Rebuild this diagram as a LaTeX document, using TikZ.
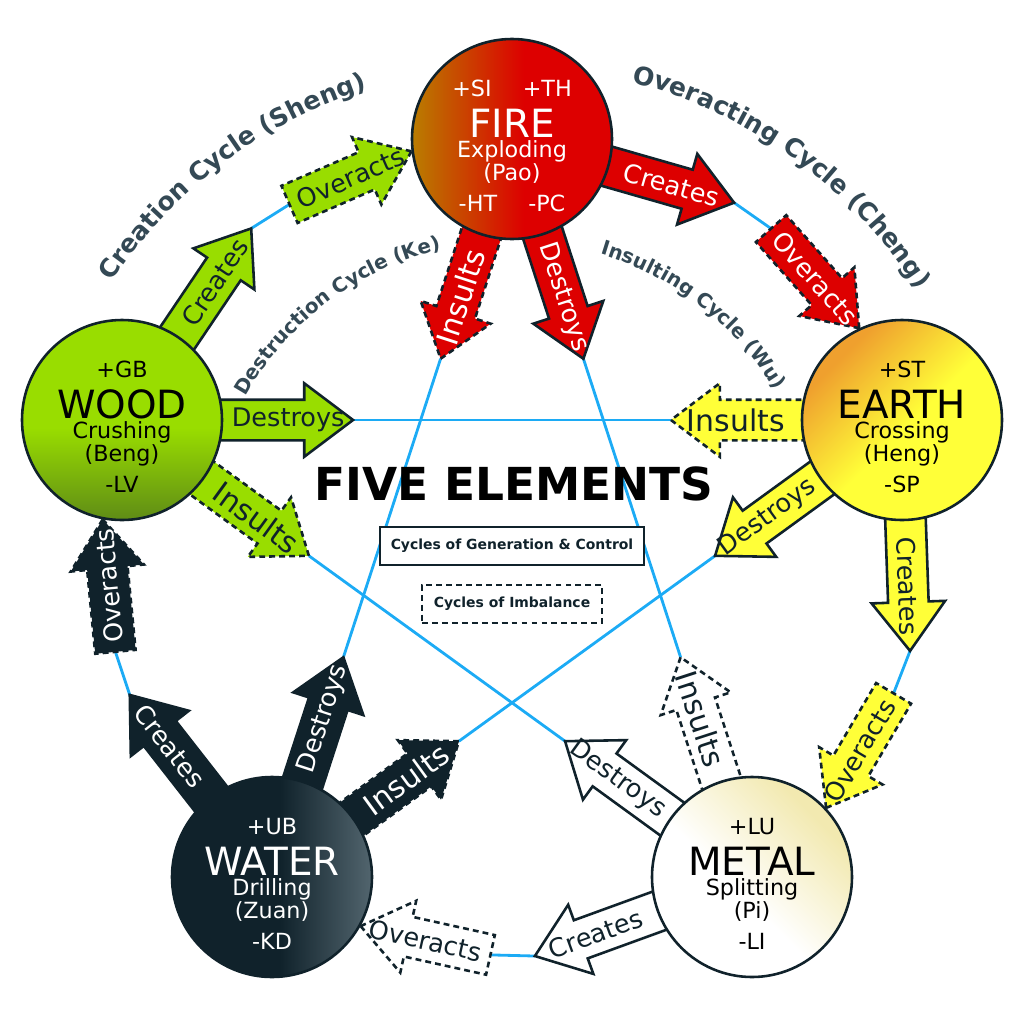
\documentclass[tikz,border=0pt]{standalone}
\usepackage{fontspec}
\setmainfont{DejaVu Sans}
\usetikzlibrary{shapes.arrows, calc, decorations.text}

\definecolor{darkLine}{HTML}{10222B}
\definecolor{lineBlue}{HTML}{1CABF5}
\definecolor{labelGrey}{HTML}{344955}
\definecolor{woodGreen}{HTML}{99DD00}
\definecolor{woodDark}{RGB}{95,140,22}
\definecolor{fireRed}{HTML}{DD0000}
\definecolor{fireOlive}{RGB}{185,125,0}
\definecolor{earthYellow}{HTML}{FFFF38}
\definecolor{earthOrange}{HTML}{EFA02E}
\definecolor{metalCream}{HTML}{F2E9B0}
\definecolor{waterGrey}{HTML}{52656E}

\pgfdeclarehorizontalshading{fireShade}{100bp}{color(0bp)=(fireOlive); color(25bp)=(fireOlive); color(53bp)=(fireRed); color(100bp)=(fireRed)}
\pgfdeclareverticalshading{woodShade}{100bp}{color(0bp)=(woodDark); color(25bp)=(woodDark); color(48bp)=(woodGreen); color(100bp)=(woodGreen)}
\pgfdeclarehorizontalshading{earthShade}{100bp}{color(0bp)=(earthOrange); color(28bp)=(earthOrange); color(52bp)=(earthYellow); color(100bp)=(earthYellow)}
\pgfdeclarehorizontalshading{metalShade}{100bp}{color(0bp)=(metalCream); color(28bp)=(metalCream); color(55bp)=(white); color(100bp)=(white)}
\pgfdeclarehorizontalshading{waterShade}{100bp}{color(0bp)=(darkLine); color(52bp)=(darkLine); color(75bp)=(waterGrey); color(100bp)=(waterGrey)}

\pgfdeclarelayer{lines}
\pgfdeclarelayer{arrows}
\pgfsetlayers{lines,arrows,main}

% texts inside one element circle
\newcommand{\elemlabels}[7]{%
  \node[elemsmall, text=#2] (#1Top) at ($(#1)+(0,-43)$) {#3};
  \node[elembig, text=#2] (#1Name) at ($(#1)+(0,-2)$) {#4};
  \node[elemsmall, text=#2] (#1Sub) at ($(#1)+(0,18)$) {#5};
  \node[elemsmall, text=#2] (#1Pin) at ($(#1)+(0,41)$) {#6};
  \node[elemsmall, text=#2] (#1Bottom) at ($(#1)+(0,72)$) {#7};
}
\newcommand{\cyclefont}{\fontsize{21.5}{21.5}\selectfont\bfseries\color{labelGrey}}
\newcommand{\innerfont}{\fontsize{17}{17}\selectfont\bfseries\color{labelGrey}}

\begin{document}
\begin{tikzpicture}[
    x=0.03cm, y=-0.03cm,
    element/.style={circle, draw=darkLine, line width=2.2pt, minimum size=6cm, inner sep=0pt},
    elemsmall/.style={anchor=base, inner sep=0pt, font=\fontsize{19}{19}\selectfont},
    elembig/.style={anchor=base, inner sep=0pt, font=\fontsize{33.2}{33.2}\selectfont},
    solidArrow/.style={
        single arrow, draw=darkLine, line width=2.2pt, minimum height=4.5cm,
        inner xsep=0pt, inner ysep=0.57cm, single arrow head extend=0.495cm,
        single arrow tip angle=74, outer sep=0pt
    },
    dashedArrow/.style={solidArrow, dash pattern=on 5pt off 3.5pt},
    freeArrow/.style={dashedArrow, minimum height=3.99cm},
    arrowText/.style={inner sep=0pt, font=\fontsize{21.8}{21.8}\selectfont},
    insultText/.style={arrowText, font=\fontsize{25.5}{25.5}\selectfont},
    cycleLine/.style={draw=lineBlue, line width=2.4pt},
    legendBox/.style={
        draw=darkLine, line width=2.2pt, fill=white, text=darkLine,
        font=\bfseries\fontsize{11.9}{11.9}\selectfont, minimum height=1.15cm
    }
]
    \useasboundingbox (0,0) rectangle (1024,1024);

    % the five elements
    \node[element, shade, shading=fireShade] (fire) at (512,139) {};
    \node[element, shade, shading=woodShade] (wood) at (122,420) {};
    \node[element, shade, shading=earthShade, shading angle=-45] (earth) at (902,420) {};
    \node[element, shade, shading=metalShade, shading angle=-135] (metal) at (752,877) {};
    \node[element, shade, shading=waterShade] (water) at (272,877) {};

    \elemlabels{fire}{white}{+SI\hspace{1.4em}+TH}{FIRE}{Exploding}{(Pao)}{-HT\hspace{1.4em}-PC}
    \elemlabels{wood}{black}{+GB}{WOOD}{Crushing}{(Beng)}{-LV}
    \elemlabels{earth}{black}{+ST}{EARTH}{Crossing}{(Heng)}{-SP}
    \elemlabels{metal}{black}{+LU}{METAL}{Splitting}{(Pi)}{-LI}
    \elemlabels{water}{white}{+UB}{WATER}{Drilling}{(Zuan)}{-KD}

    \begin{pgfonlayer}{arrows}
    % wood
    \node[solidArrow, fill=woodGreen, rotate=56, anchor=tail] (woodCreates) at ($(wood)!0.8!(wood.56)$) {};
    \node[solidArrow, fill=woodGreen, rotate=0, anchor=tail] (woodDestroys) at ($(wood)!0.8!(wood.0)$) {};
    \node[dashedArrow, fill=woodGreen, rotate=-36, anchor=tail] (woodInsults) at ($(wood)!0.8!(wood.-36)$) {};
    \node[freeArrow, fill=woodGreen, rotate=23.5, anchor=tip] (woodOveracts) at (fire.187) {};
    % fire
    \node[solidArrow, fill=fireRed, rotate=-16, anchor=tail] (fireCreates) at ($(fire)!0.8!(fire.-16)$) {};
    \node[solidArrow, fill=fireRed, rotate=-72, anchor=tail] (fireDestroys) at ($(fire)!0.8!(fire.-72)$) {};
    \node[dashedArrow, fill=fireRed, rotate=-108, anchor=tail] (fireInsults) at ($(fire)!0.8!(fire.-108)$) {};
    \node[freeArrow, fill=fireRed, rotate=-48.5, anchor=tip] (fireOveracts) at (earth.115) {};
    % earth
    \node[solidArrow, fill=earthYellow, rotate=-88, anchor=tail] (earthCreates) at ($(earth)!0.8!(earth.-88)$) {};
    \node[solidArrow, fill=earthYellow, rotate=-144, anchor=tail] (earthDestroys) at ($(earth)!0.8!(earth.-144)$) {};
    \node[dashedArrow, fill=earthYellow, rotate=180, anchor=tail] (earthInsults) at ($(earth)!0.8!(earth.180)$) {};
    \node[freeArrow, fill=earthYellow, rotate=-120.5, anchor=tip] (earthOveracts) at (metal.43) {};
    % metal
    \node[solidArrow, fill=white, rotate=-160, anchor=tail] (metalCreates) at ($(metal)!0.8!(metal.-160)$) {};
    \node[solidArrow, fill=white, rotate=144, anchor=tail] (metalDestroys) at ($(metal)!0.8!(metal.144)$) {};
    \node[dashedArrow, fill=white, rotate=108, anchor=tail] (metalInsults) at ($(metal)!0.8!(metal.108)$) {};
    \node[freeArrow, fill=white, rotate=167.5, anchor=tip] (metalOveracts) at (water.-29) {};
    % water
    \node[solidArrow, fill=darkLine, rotate=128, anchor=tail] (waterCreates) at ($(water)!0.8!(water.128)$) {};
    \node[solidArrow, fill=darkLine, rotate=72, anchor=tail] (waterDestroys) at ($(water)!0.8!(water.72)$) {};
    \node[dashedArrow, fill=darkLine, rotate=36, anchor=tail] (waterInsults) at ($(water)!0.8!(water.36)$) {};
    \node[freeArrow, fill=darkLine, rotate=95.5, anchor=tip] (waterOveracts) at (wood.-101) {};
    \end{pgfonlayer}

    % arrow texts
    \node[arrowText, text=darkLine, rotate=56] (woodCreatesText) at ($(woodCreates.tip)!0.5!(wood.56)$) {Creates};
    \node[arrowText, text=darkLine, rotate=0] (woodDestroysText) at ($(woodDestroys.tip)!0.5!(wood.0)$) {Destroys};
    \node[insultText, text=darkLine, rotate=-36] (woodInsultsText) at ($(woodInsults.tip)!0.5!(wood.-36)$) {Insults};
    \node[arrowText, text=darkLine, rotate=23.5] (woodOveractsText) at ($(woodOveracts.tail)!0.5!(woodOveracts.tip)$) {Overacts};

    \node[arrowText, text=white, rotate=-16] (fireCreatesText) at ($(fireCreates.tip)!0.5!(fire.-16)$) {Creates};
    \node[arrowText, text=white, rotate=-72] (fireDestroysText) at ($(fireDestroys.tip)!0.5!(fire.-72)$) {Destroys};
    \node[insultText, text=white, rotate=72] (fireInsultsText) at ($(fireInsults.tip)!0.5!(fire.-108)$) {Insults};
    \node[arrowText, text=white, rotate=-48.5] (fireOveractsText) at ($(fireOveracts.tail)!0.5!(fireOveracts.tip)$) {Overacts};

    \node[arrowText, text=darkLine, rotate=-88] (earthCreatesText) at ($(earthCreates.tip)!0.5!(earth.-88)$) {Creates};
    \node[arrowText, text=darkLine, rotate=36] (earthDestroysText) at ($(earthDestroys.tip)!0.5!(earth.-144)$) {Destroys};
    \node[insultText, text=darkLine, rotate=0] (earthInsultsText) at ($(earthInsults.tip)!0.5!(earth.180)$) {Insults};
    \node[arrowText, text=darkLine, rotate=59.5] (earthOveractsText) at ($(earthOveracts.tail)!0.5!(earthOveracts.tip)$) {Overacts};

    \node[arrowText, text=darkLine, rotate=20] (metalCreatesText) at ($(metalCreates.tip)!0.5!(metal.-160)$) {Creates};
    \node[arrowText, text=darkLine, rotate=-36] (metalDestroysText) at ($(metalDestroys.tip)!0.5!(metal.144)$) {Destroys};
    \node[insultText, text=darkLine, rotate=-72] (metalInsultsText) at ($(metalInsults.tip)!0.5!(metal.108)$) {Insults};
    \node[arrowText, text=darkLine, rotate=-12.5] (metalOveractsText) at ($(metalOveracts.tail)!0.5!(metalOveracts.tip)$) {Overacts};

    \node[arrowText, text=white, rotate=-52] (waterCreatesText) at ($(waterCreates.tip)!0.5!(water.128)$) {Creates};
    \node[arrowText, text=white, rotate=72] (waterDestroysText) at ($(waterDestroys.tip)!0.5!(water.72)$) {Destroys};
    \node[insultText, text=white, rotate=36] (waterInsultsText) at ($(waterInsults.tip)!0.5!(water.36)$) {Insults};
    \node[arrowText, text=white, rotate=95.5] (waterOveractsText) at ($(waterOveracts.tail)!0.5!(waterOveracts.tip)$) {Overacts};

    % connecting lines
    \begin{pgfonlayer}{lines}
    \draw[cycleLine] (woodCreates.tip) -- (woodOveracts.tail);
    \draw[cycleLine] (fireCreates.tip) -- (fireOveracts.tail);
    \draw[cycleLine] (earthCreates.tip) -- (earthOveracts.tail);
    \draw[cycleLine] (metalCreates.tip) -- (metalOveracts.tail);
    \draw[cycleLine] (waterCreates.tip) -- (waterOveracts.tail);
    \draw[cycleLine] (woodDestroys.tip) -- (earthInsults.tip);
    \draw[cycleLine] (fireDestroys.tip) -- (metalInsults.tip);
    \draw[cycleLine] (earthDestroys.tip) -- (waterInsults.tip);
    \draw[cycleLine] (metalDestroys.tip) -- (woodInsults.tip);
    \draw[cycleLine] (waterDestroys.tip) -- (fireInsults.tip);
    \end{pgfonlayer}

    % title and legend
    \node[anchor=base, inner sep=0pt, font=\bfseries\fontsize{38.8}{38.8}\selectfont] (title) at (514,500) {FIVE ELEMENTS};
    \node[legendBox, minimum width=7.92cm] (genBox) at (512,546) {Cycles of Generation \& Control};
    \node[legendBox, minimum width=5.4cm, dash pattern=on 5pt off 3.5pt] (imbBox) at (512,604) {Cycles of Imbalance};

    % cycle names
    \path[decorate, decoration={text along path, text align=center,
        text={|\cyclefont|Creation Cycle (Sheng)}}]
        ($(512,547)+(-157:480)$) arc[start angle=-157, end angle=-97, radius=480];
    \path[decorate, decoration={text along path, text align=center,
        text={|\cyclefont|Overacting Cycle (Cheng)}}]
        ($(512,547)+(-84:480)$) arc[start angle=-84, end angle=-24, radius=480];
    \path[decorate, decoration={text along path, text align=center,
        text={|\innerfont|Destruction Cycle (Ke)}}]
        ($(512,547)+(-157:306)$) arc[start angle=-157, end angle=-97, radius=306];
    \path[decorate, decoration={text along path, text align=center,
        text={|\innerfont|Insulting Cycle (Wu)}}]
        ($(512,547)+(-82:306)$) arc[start angle=-82, end angle=-22, radius=306];
\end{tikzpicture}
\end{document}
